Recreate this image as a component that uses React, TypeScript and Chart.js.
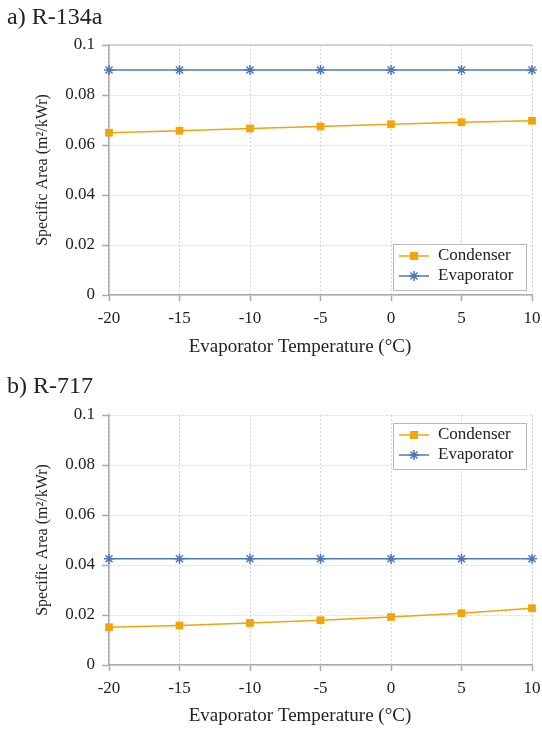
import React, { useEffect, useRef } from "react";
import { Chart, registerables } from "chart.js";

Chart.register(...registerables);

// ---- data ----
const temperatures = [-20, -15, -10, -5, 0, 5, 10];
const r134aCondenser = [0.0649, 0.0657, 0.0666, 0.0674, 0.0683, 0.0691, 0.0697];
const r134aEvaporator = [0.09, 0.09, 0.09, 0.09, 0.09, 0.09, 0.09];
const r717Condenser = [0.0151, 0.0158, 0.0168, 0.0179, 0.0192, 0.0207, 0.0227];
const r717Evaporator = [0.0425, 0.0425, 0.0425, 0.0425, 0.0425, 0.0425, 0.0425];
const yTicks = [0, 0.02, 0.04, 0.06, 0.08, 0.1];
const yTickLabels = ["0", "0.02", "0.04", "0.06", "0.08", "0.1"];
const xTickLabels = ["-20", "-15", "-10", "-5", "0", "5", "10"];
const seriesNames = ["Condenser", "Evaporator"];
const panelTitles = ["a) R-134a", "b) R-717"];
const xTitle = "Evaporator Temperature (°C)";
const yTitle = "Specific Area (m²/kWr)";

// ---- styles ----
const FONT = "'Liberation Serif', 'Times New Roman', serif";
const ORANGE = "#f2a40c";
const BLUE = "#4a78b8";
const TEXT = "#222222";
const GRID = "#d4d4d4";
const AXIS = "#aaaaaa";
const CANVAS_W = 542;
const CANVAS_H = 369;

function drawStar(ctx: CanvasRenderingContext2D, x: number, y: number, r: number) {
  const d = r * Math.SQRT1_2;
  ctx.beginPath();
  ctx.moveTo(x - r, y);
  ctx.lineTo(x + r, y);
  ctx.moveTo(x, y - r);
  ctx.lineTo(x, y + r);
  ctx.moveTo(x - d, y - d);
  ctx.lineTo(x + d, y + d);
  ctx.moveTo(x - d, y + d);
  ctx.lineTo(x + d, y - d);
  ctx.stroke();
}

type PanelProps = {
  title: string;
  condenser: number[];
  evaporator: number[];
  legendPos: "top" | "bottom";
  top: number;
  plotTop: number;
  topSolid: boolean;
};

function Panel({ title, condenser, evaporator, legendPos, top, plotTop, topSolid }: PanelProps) {
  const ref = useRef<HTMLCanvasElement>(null);

  useEffect(() => {
    const plotBottom = plotTop + 250;
    const decor = {
      id: "decor",
      beforeDatasetsDraw(chart: any) {
        const { ctx, chartArea } = chart;
        if (topSolid) {
          ctx.save();
          ctx.strokeStyle = "#c6c6c6";
          ctx.lineWidth = 1.5;
          ctx.beginPath();
          ctx.moveTo(chartArea.left, chartArea.top);
          ctx.lineTo(chartArea.right, chartArea.top);
          ctx.stroke();
          ctx.restore();
        }
      },
      afterDraw(chart: any) {
        const { ctx, chartArea } = chart;
        ctx.save();
        // panel title
        ctx.fillStyle = TEXT;
        ctx.font = `24px ${FONT}`;
        ctx.textBaseline = "middle";
        ctx.textAlign = "left";
        ctx.fillText(title, 7, 18);

        // x axis title
        ctx.font = `19px ${FONT}`;
        ctx.textAlign = "center";
        ctx.fillText(xTitle, 300, 347);
        ctx.textAlign = "left";

        // legend box
        const bw = 133;
        const bh = 46;
        const bx = chartArea.right - 6 - bw;
        const by = legendPos === "bottom" ? chartArea.bottom - 5 - bh : chartArea.top + 8;
        ctx.fillStyle = "#ffffff";
        ctx.fillRect(bx, by, bw, bh);
        ctx.strokeStyle = "#b8b8b8";
        ctx.lineWidth = 1;
        ctx.strokeRect(bx + 0.5, by + 0.5, bw, bh);

        const rows = [by + 12, by + 32];
        const colors = [ORANGE, BLUE];
        rows.forEach((ry, i) => {
          ctx.strokeStyle = colors[i];
          ctx.fillStyle = colors[i];
          ctx.lineWidth = 1.5;
          ctx.beginPath();
          ctx.moveTo(bx + 6, ry);
          ctx.lineTo(bx + 36, ry);
          ctx.stroke();
          const mx = bx + 21;
          if (i === 0) {
            ctx.fillRect(mx - 4, ry - 4, 8, 8);
          } else {
            drawStar(ctx, mx, ry, 5);
          }
          ctx.fillStyle = TEXT;
          ctx.font = `17px ${FONT}`;
          ctx.textBaseline = "middle";
          ctx.fillText(seriesNames[i], bx + 45, ry);
        });
        ctx.restore();
      },
    };

    const chart = new Chart(ref.current as HTMLCanvasElement, {
      type: "line",
      data: {
        datasets: [
          {
            label: seriesNames[0],
            data: temperatures.map((t, i) => ({ x: t, y: condenser[i] })),
            borderColor: ORANGE,
            backgroundColor: ORANGE,
            borderWidth: 1.5,
            pointStyle: "rect",
            pointRadius: 5.5,
            pointBorderWidth: 0,
            tension: 0,
            clip: false,
          },
          {
            label: seriesNames[1],
            data: temperatures.map((t, i) => ({ x: t, y: evaporator[i] })),
            borderColor: BLUE,
            backgroundColor: BLUE,
            borderWidth: 1.5,
            pointStyle: "star",
            pointRadius: 5,
            pointBorderWidth: 1.5,
            tension: 0,
            clip: false,
          },
        ],
      },
      options: {
        responsive: false,
        animation: false,
        devicePixelRatio: 1,
        layout: { padding: { top: plotTop, right: 10, left: 0, bottom: 0 } },
        plugins: {
          legend: { display: false },
          tooltip: { enabled: false },
          title: { display: false },
        },
        scales: {
          x: {
            type: "linear",
            min: -20,
            max: 10,
            afterBuildTicks: (s: any) => {
              s.ticks = temperatures.map((v) => ({ value: v }));
            },
            afterFit: (s: any) => {
              s.height = CANVAS_H - plotBottom;
              s.paddingLeft = 0;
              s.paddingRight = 0;
            },
            grid: { color: GRID, lineWidth: 1, tickColor: AXIS, tickLength: 6, tickWidth: 1.5 },
            border: { color: AXIS, width: 1.5, dash: [2, 2] },
            ticks: {
              color: TEXT,
              font: { family: FONT, size: 17 },
              padding: 7,
              maxRotation: 0,
              autoSkip: false,
              callback: (_v: any, i: number) => xTickLabels[i],
            },
            title: { display: false },
          },
          y: {
            type: "linear",
            min: 0,
            max: 0.1,
            afterBuildTicks: (s: any) => {
              s.ticks = yTicks.map((v) => ({ value: v }));
            },
            afterFit: (s: any) => {
              s.width = 109;
            },
            grid: { color: GRID, lineWidth: 1, tickColor: AXIS, tickLength: 7, tickWidth: 1.5 },
            border: { color: AXIS, width: 1.5, dash: [2, 2] },
            ticks: {
              color: TEXT,
              font: { family: FONT, size: 17 },
              padding: 7,
              autoSkip: false,
              callback: (_v: any, i: number) => yTickLabels[i],
            },
            title: {
              display: true,
              text: yTitle,
              color: TEXT,
              font: { family: FONT, size: 16 },
              padding: { top: 33, bottom: 0 },
            },
          },
        },
      },
      plugins: [decor],
    } as any);

    return () => chart.destroy();
  }, []);

  return (
    <canvas
      ref={ref}
      width={CANVAS_W}
      height={CANVAS_H}
      style={{ position: "absolute", left: 0, top, width: CANVAS_W, height: CANVAS_H, display: "block" }}
    />
  );
}

export default function App() {
  return (
    <div
      style={{
        position: "absolute",
        left: 0,
        top: 0,
        width: 542,
        height: 729,
        overflow: "hidden",
        background: "#ffffff",
      }}
    >
      <Panel
        title={panelTitles[0]}
        condenser={r134aCondenser}
        evaporator={r134aEvaporator}
        legendPos="bottom"
        top={0}
        plotTop={45}
        topSolid={true}
      />
      <Panel
        title={panelTitles[1]}
        condenser={r717Condenser}
        evaporator={r717Evaporator}
        legendPos="top"
        top={369}
        plotTop={46}
        topSolid={false}
      />
    </div>
  );
}
